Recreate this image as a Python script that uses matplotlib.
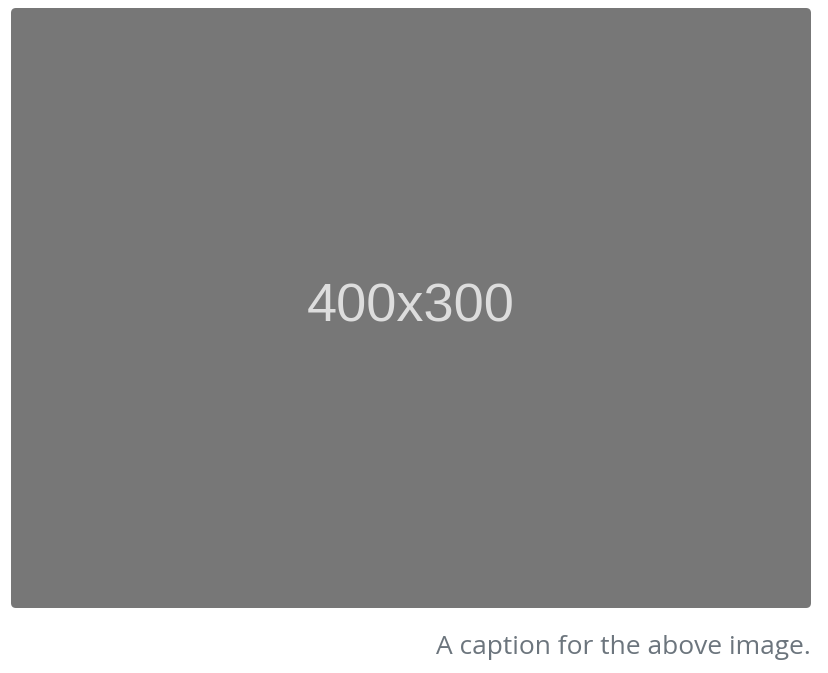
import matplotlib
matplotlib.use("Agg")
import matplotlib.pyplot as plt
from matplotlib.patches import FancyBboxPatch

# placeholder content
placeholder_label = "400x300"
caption_text = "A caption for the above image."
box_left, box_top, box_width, box_height = 11, 8, 800, 600

fig = plt.figure(figsize=(8.29, 6.73), dpi=100)
ax = fig.add_axes([0, 0, 1, 1])
ax.set_xlim(0, 829)
ax.set_ylim(673, 0)
ax.axis("off")

box = FancyBboxPatch((box_left + 5, box_top + 5), box_width - 10, box_height - 10,
                     boxstyle="round,pad=5", facecolor="#777777", edgecolor="none")
ax.add_patch(box)

ax.text(box_left + box_width / 2, box_top + box_height / 2, placeholder_label,
        ha="center", va="center", color="#dddddd", fontsize=39,
        family=["Liberation Sans", "DejaVu Sans"])

ax.text(box_left + box_width, 648, caption_text, ha="right", va="center",
        color="#6c757d", fontsize=19, family=["Open Sans", "DejaVu Sans"])

fig.savefig("out.png", dpi=100)
